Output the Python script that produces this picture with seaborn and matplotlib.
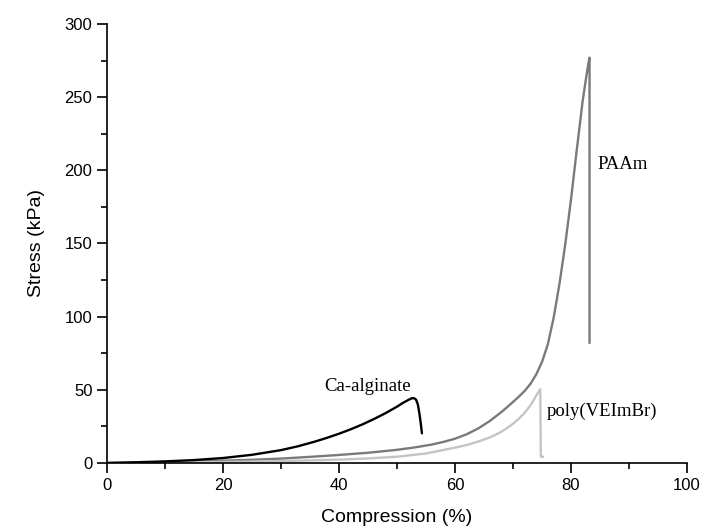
import matplotlib
matplotlib.use("Agg")
import matplotlib.pyplot as plt
import seaborn as sns
import pandas as pd
from matplotlib.ticker import MultipleLocator

# Data
ca_x = [0, 5, 10, 15, 20, 25, 30, 33, 36, 38, 40, 42, 44, 46, 48, 50, 51, 52, 52.6, 53.0, 53.3, 53.6, 53.9, 54.1, 54.3]
ca_y = [0, 0.5, 1.1, 2.0, 3.4, 5.6, 8.8, 11.5, 14.8, 17.3, 20.0, 23.0, 26.3, 30.0, 34.0, 38.5, 41.0, 43.2, 44.3, 44.2, 43.2, 40, 33, 27, 20.3]

paam_x = [0, 5, 10, 15, 20, 25, 30, 35, 40, 45, 50, 53, 56, 58, 60, 62, 64, 66, 68, 69, 70, 71, 72, 73, 74, 75, 76,
          77, 78, 79, 80, 81, 82, 82.6, 83.0, 83.2, 83.2]
paam_y = [0, 0.3, 0.7, 1.1, 1.6, 2.2, 3, 4.2, 5.5, 7, 9, 10.6, 12.6, 14.4, 16.6, 19.6, 23.6, 28.7, 34.8, 38.2, 41.7,
          45.3, 49.2, 54, 60.5, 69, 81, 99, 122, 149, 180, 214, 247, 263, 273, 277, 82]

poly_x = [0, 10, 20, 30, 40, 45, 50, 55, 60, 62, 64, 66, 67, 68, 69, 70, 71, 72, 72.8, 73.5, 74, 74.4, 74.7, 74.75, 74.8, 75.2]
poly_y = [0, 0.3, 0.7, 1.3, 2.3, 3.1, 4.3, 6.5, 10.5, 12.3, 14.6, 17.5, 19.3, 21.4, 23.9, 26.8, 30.2, 34.2, 38.3, 42.5, 46, 48.6, 50.4, 30, 4.3, 4.3]

series_names = ["PAAm", "poly(VEImBr)", "Ca-alginate"]
series_colors = {"PAAm": "#7a7a7a", "poly(VEImBr)": "#c4c4c4", "Ca-alginate": "#000000"}

x_ticks = [0, 20, 40, 60, 80, 100]
y_ticks = [0, 50, 100, 150, 200, 250, 300]

frames = []
for name, xs, ys in [("PAAm", paam_x, paam_y), ("poly(VEImBr)", poly_x, poly_y), ("Ca-alginate", ca_x, ca_y)]:
    frames.append(pd.DataFrame({"x": xs, "y": ys, "series": name}))
df = pd.concat(frames, ignore_index=True)

sns.set_style("ticks")
plt.rcParams['font.family'] = ['Liberation Sans', 'DejaVu Sans']

fig = plt.figure(figsize=(7.02, 5.32), dpi=100)
ax = fig.add_axes([0.1524, 0.1297, 0.8262, 0.8252])

for name in series_names:
    sub = df[df["series"] == name]
    sns.lineplot(data=sub, x="x", y="y", sort=False, estimator=None, color=series_colors[name],
                 linewidth=1.7, ax=ax, legend=False)

ax.set_xlim(0, 100)
ax.set_ylim(0, 300)
ax.set_xticks(x_ticks)
ax.set_yticks(y_ticks)
ax.xaxis.set_minor_locator(MultipleLocator(10))
ax.yaxis.set_minor_locator(MultipleLocator(25))
ax.tick_params(axis='both', which='major', direction='out', length=7, width=1.2, labelsize=12,
               colors='black', labelcolor='black')
ax.tick_params(axis='both', which='minor', direction='out', length=4, width=1.2, colors='black')
for s in ["top", "right"]:
    ax.spines[s].set_visible(False)
for s in ["left", "bottom"]:
    ax.spines[s].set_linewidth(1.2)
    ax.spines[s].set_color('black')

ax.set_xlabel("Compression (%)", fontsize=14, labelpad=12, color='black')
ax.set_ylabel("Stress (kPa)", fontsize=14, labelpad=14, color='black')

serif = ['Liberation Serif', 'DejaVu Serif']
ax.text(45, 49, "Ca-alginate", family=serif, fontsize=13.5, ha='center', va='baseline', color='black')
ax.text(84.5, 204, "PAAm", family=serif, fontsize=13.5, ha='left', va='center', color='black')
ax.text(75.8, 35, "poly(VEImBr)", family=serif, fontsize=13.5, ha='left', va='center', color='black')

fig.savefig("out.png", dpi=100)
